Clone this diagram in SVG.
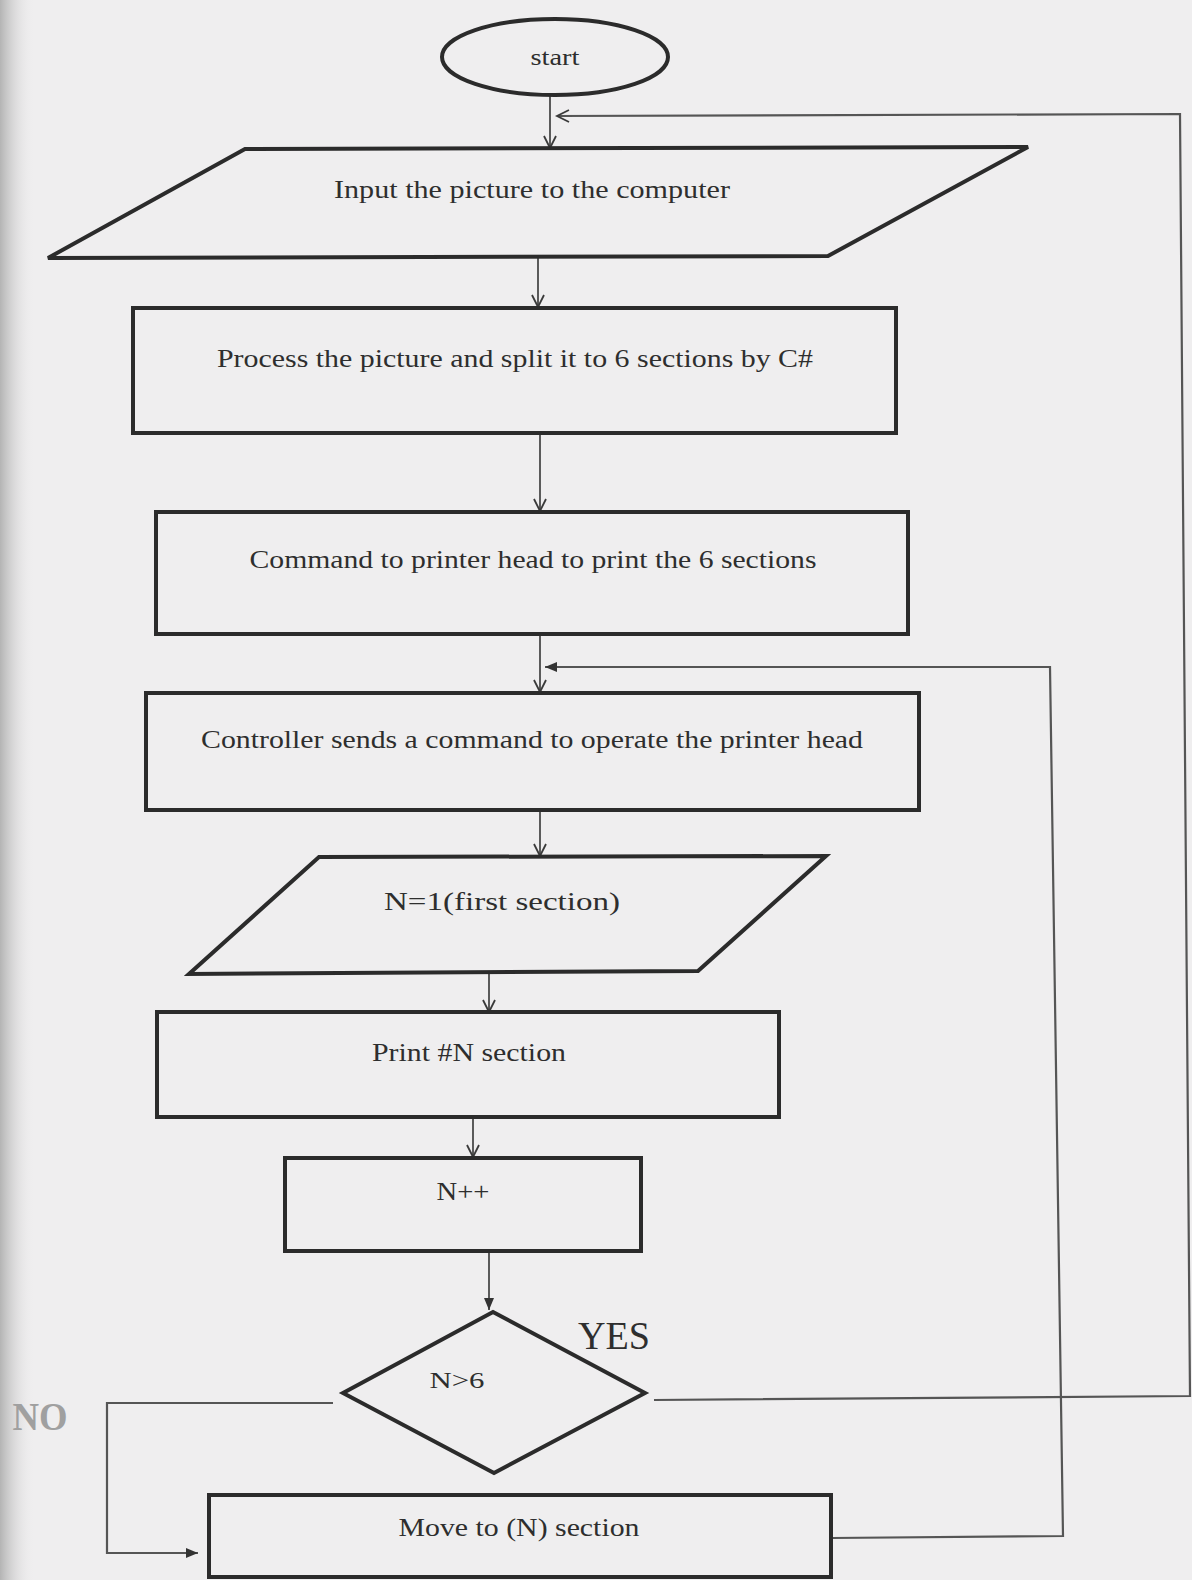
<svg xmlns="http://www.w3.org/2000/svg" width="1192" height="1580" viewBox="0 0 1192 1580">
  <style>
    .shape { fill: none; stroke: #2b2b2b; stroke-width: 4; stroke-linejoin: miter; }
    .conn { fill: none; stroke: #4a4a4a; stroke-width: 1.8; }
    .fb { fill: none; stroke: #555; stroke-width: 2.2; }
    .lbl { font-family: "Liberation Serif", "Times New Roman", serif; font-size: 26px; fill: #2e2e2e; text-anchor: middle; }
    .big { font-size: 40px; }
    .small { font-size: 23px; }
  </style>
  <defs>
    <linearGradient id="edge" x1="0" y1="0" x2="1" y2="0">
      <stop offset="0" stop-color="#b4b4b4"/>
      <stop offset="1" stop-color="#efeeef" stop-opacity="0"/>
    </linearGradient>
    <marker id="open" markerUnits="userSpaceOnUse" markerWidth="16" markerHeight="16" refX="13" refY="7" orient="auto" overflow="visible">
      <path d="M1,1 L13,7 L1,13" fill="none" stroke="#3a3a3a" stroke-width="1.8"/>
    </marker>
    <marker id="fill" markerUnits="userSpaceOnUse" markerWidth="16" markerHeight="16" refX="12" refY="6" orient="auto" overflow="visible">
      <path d="M0,1 L12,6 L0,11 Z" fill="#333" stroke="none"/>
    </marker>
  </defs>

  <rect x="0" y="0" width="1192" height="1580" fill="#efeeef"/>
  <rect x="0" y="0" width="35" height="1580" fill="url(#edge)"/>

  <g id="connectors">
    <line class="conn" x1="550" y1="96" x2="550" y2="148" marker-end="url(#open)"/>
    <path class="fb" d="M654,1400 L1190,1396 L1180,114 L557,116" marker-end="url(#open)"/>
    <line class="conn" x1="538" y1="258" x2="538" y2="307" marker-end="url(#open)"/>
    <line class="conn" x1="540" y1="435" x2="540" y2="511" marker-end="url(#open)"/>
    <line class="conn" x1="540" y1="636" x2="540" y2="692" marker-end="url(#open)"/>
    <path class="fb" d="M832,1538 L1063,1536 L1050,667 L545,667" marker-end="url(#fill)"/>
    <line class="conn" x1="540" y1="811" x2="540" y2="856" marker-end="url(#open)"/>
    <line class="conn" x1="489" y1="974" x2="489" y2="1012" marker-end="url(#open)"/>
    <line class="conn" x1="473" y1="1119" x2="473" y2="1157" marker-end="url(#open)"/>
    <line class="conn" x1="489" y1="1252" x2="489" y2="1310" marker-end="url(#fill)"/>
    <path class="fb" d="M333,1403 L107,1403 L107,1553 L198,1553" marker-end="url(#fill)"/>
  </g>

  <g id="start">
    <ellipse class="shape" cx="555" cy="57" rx="113" ry="38" stroke-width="3.5"/>
    <text class="lbl small" x="555" y="65" textLength="49" lengthAdjust="spacingAndGlyphs">start</text>
  </g>

  <g id="input">
    <polygon class="shape" points="245,149 1028,147 828,256 48,258"/>
    <text class="lbl" x="532" y="198" textLength="396" lengthAdjust="spacingAndGlyphs">Input the picture to the computer</text>
  </g>

  <g id="process">
    <rect class="shape" x="133" y="308" width="763" height="125"/>
    <text class="lbl" x="515" y="367" textLength="596" lengthAdjust="spacingAndGlyphs">Process the picture and split it to 6 sections by C#</text>
  </g>

  <g id="command">
    <rect class="shape" x="156" y="512" width="752" height="122"/>
    <text class="lbl" x="533" y="568" textLength="567" lengthAdjust="spacingAndGlyphs">Command to printer head to print the 6 sections</text>
  </g>

  <g id="controller">
    <rect class="shape" x="146" y="693" width="773" height="117"/>
    <text class="lbl" x="532" y="748" textLength="662" lengthAdjust="spacingAndGlyphs">Controller sends a command to operate the printer head</text>
  </g>

  <g id="n1">
    <polygon class="shape" points="319,857 826,856 698,971 189,974"/>
    <text class="lbl" x="502" y="910" textLength="236" lengthAdjust="spacingAndGlyphs">N=1(first section)</text>
  </g>

  <g id="print">
    <rect class="shape" x="157" y="1012" width="622" height="105"/>
    <text class="lbl" x="469" y="1061" textLength="194" lengthAdjust="spacingAndGlyphs">Print #N section</text>
  </g>

  <g id="inc">
    <rect class="shape" x="285" y="1158" width="356" height="93"/>
    <text class="lbl" x="463" y="1200" textLength="53" lengthAdjust="spacingAndGlyphs">N++</text>
  </g>

  <g id="decision">
    <polygon class="shape" points="493,1312 645,1393 494,1473 343,1393"/>
    <text class="lbl small" x="457" y="1388" textLength="55" lengthAdjust="spacingAndGlyphs">N&gt;6</text>
  </g>

  <g id="move">
    <rect class="shape" x="209" y="1495" width="622" height="82"/>
    <text class="lbl" x="519" y="1536" textLength="241" lengthAdjust="spacingAndGlyphs">Move to (N) section</text>
  </g>

  <g id="labels">
    <text class="lbl big" x="614" y="1349" fill="#333" textLength="72" lengthAdjust="spacingAndGlyphs">YES</text>
    <text class="lbl big" x="40" y="1430" font-weight="bold" style="fill:#a0a0a0" textLength="55" lengthAdjust="spacingAndGlyphs">NO</text>
  </g>
</svg>
